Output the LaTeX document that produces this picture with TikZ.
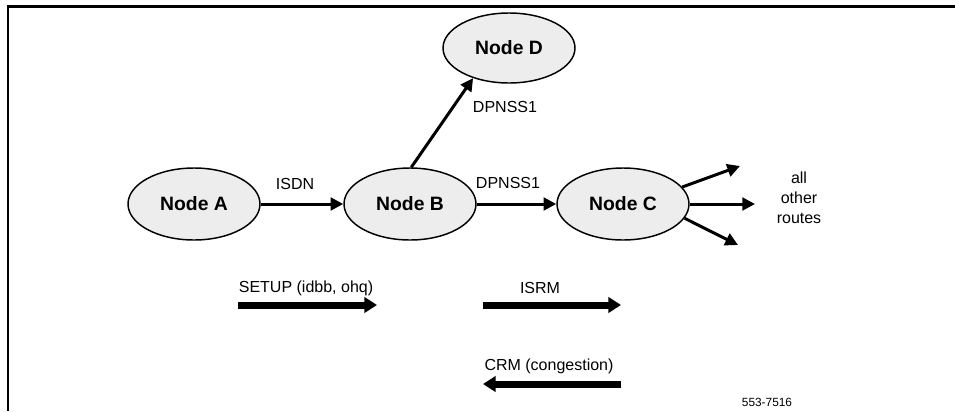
\documentclass[tikz,border=0pt]{standalone}
\usepackage{fontspec}
\setmainfont{Liberation Sans}
\usetikzlibrary{shapes.geometric,arrows.meta}
\begin{document}
\begin{tikzpicture}[x=0.75pt,y=-0.75pt,
  netnode/.style={ellipse,draw=black,line width=1.1pt,fill=black!7,inner sep=0pt,
     minimum width=99pt,minimum height=54pt,font=\fontsize{14.5}{16}\selectfont\bfseries},
  lbl/.style={inner sep=0pt,font=\fontsize{12}{14}\selectfont},
  link/.style={line width=2.25pt,-{Triangle[length=9.5pt,width=9.5pt]}},
  msg/.style={line width=5.25pt,-{Triangle[length=9.5pt,width=11.5pt]}}]
\useasboundingbox (0,0) rectangle (955,411);
% frame
\draw[line width=2pt] (8,411) -- (8,6.5) -- (955,6.5);
% nodes
\node[netnode] (A) at (194,204) {Node A};
\node[netnode] (B) at (410,204) {Node B};
\node[netnode] (C) at (623,204) {Node C};
\node[netnode,minimum height=52.5pt] (D) at (509,48) {Node D};
% links
\draw[link] (A) -- (B);
\draw[link] (B) -- (C);
\draw[link] (B.88) -- (D.220);
\coordinate (r1) at (740,166);
\coordinate (r2) at (755,204);
\coordinate (r3) at (738,245);
\draw[link] (C.16) -- (r1);
\draw[link] (C.east) -- (r2);
\draw[link] (C.-13) -- (r3);
% labels
\node[lbl] (lisdn) at (295,184) {ISDN};
\node[lbl] (ldp1) at (508,183) {DPNSS1};
\node[lbl] (ldp2) at (505,107) {DPNSS1};
\node[lbl,align=center,font=\fontsize{12}{15}\selectfont] (lall) at (799,198) {all\\other\\routes};
% messages
\coordinate (s1) at (238,305); \coordinate (s2) at (377,305);
\coordinate (i1) at (483,305); \coordinate (i2) at (621,305);
\coordinate (c1) at (621,384); \coordinate (c2) at (483,384);
\draw[msg] (s1) -- (s2);
\draw[msg] (i1) -- (i2);
\draw[msg] (c1) -- (c2);
\node[lbl] (lsetup) at (306,288) {SETUP (idbb, ohq)};
\node[lbl] (lisrm) at (540,288) {ISRM};
\node[lbl] (lcrm) at (549,366) {CRM (congestion)};
\node[inner sep=0pt,font=\fontsize{8.9}{10}\selectfont] (fig) at (767,402) {553-7516};
\end{tikzpicture}
\end{document}
